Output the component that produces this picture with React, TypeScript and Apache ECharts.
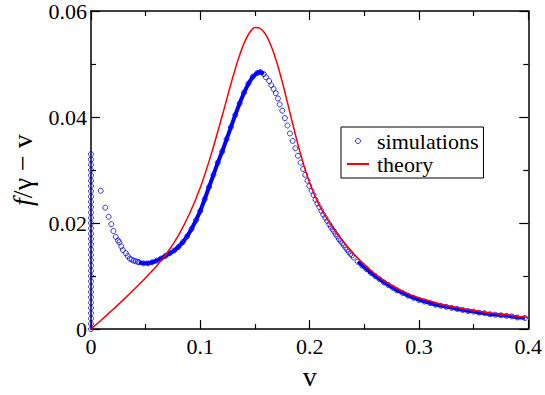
import React, { useEffect, useRef } from "react";
import * as echarts from "echarts";

// ---- data ----
// simulations: points stuck at v = 0
const simColumn: [number, number][] = [
  [0, 0.000], [0, 0.001], [0, 0.002], [0, 0.003], [0, 0.004], [0, 0.005], [0, 0.006],
  [0, 0.007], [0, 0.008], [0, 0.009], [0, 0.010], [0, 0.011], [0, 0.012], [0, 0.013],
  [0, 0.014], [0, 0.015], [0, 0.016], [0, 0.017], [0, 0.018], [0, 0.019], [0, 0.020],
  [0, 0.021], [0, 0.022], [0, 0.023], [0, 0.024], [0, 0.025], [0, 0.026], [0, 0.027],
  [0, 0.028], [0, 0.029], [0, 0.030], [0, 0.031], [0, 0.032], [0, 0.033],
];
// simulations: sparse points leaving v = 0
const simEarly: [number, number][] = [
  [0.0089, 0.0261], [0.0131, 0.0229], [0.0161, 0.0212], [0.0185, 0.0198], [0.0205, 0.0185],
  [0.0226, 0.0174], [0.0247, 0.0167], [0.0259, 0.0164], [0.0277, 0.0156], [0.0292, 0.0149],
  [0.0319, 0.0143], [0.0336, 0.0138], [0.0354, 0.0133], [0.0372, 0.0131], [0.0390, 0.0129],
  [0.0408, 0.0128], [0.0426, 0.0127],
];
// simulations: dense rising band up to the peak
const simRise: [number, number][] = [
  [0.044, 0.0126], [0.048, 0.0124], [0.052, 0.0124],
  [0.056, 0.0126], [0.060, 0.0129], [0.064, 0.0133], [0.068, 0.0138], [0.072, 0.0143],
  [0.076, 0.0148], [0.080, 0.0155], [0.084, 0.0164], [0.088, 0.0175], [0.092, 0.0189],
  [0.096, 0.0205], [0.100, 0.0223], [0.104, 0.0245], [0.108, 0.0268], [0.112, 0.0291],
  [0.116, 0.0314], [0.120, 0.0335], [0.124, 0.0358], [0.128, 0.0381], [0.132, 0.0404],
  [0.136, 0.0426], [0.140, 0.0446], [0.144, 0.0463], [0.148, 0.0476], [0.152, 0.0483],
  [0.155, 0.0485], [0.158, 0.0481],
];
// simulations: sparse falling points after the peak
const simFall: [number, number][] = [
  [0.160, 0.0475], [0.163, 0.0468], [0.165, 0.0460], [0.167, 0.0453], [0.169, 0.0445],
  [0.171, 0.0435], [0.1726, 0.0424], [0.175, 0.0412], [0.1774, 0.0398], [0.1797, 0.0384],
  [0.182, 0.0369], [0.1845, 0.0355], [0.1869, 0.0341], [0.1893, 0.0327], [0.1917, 0.0314],
  [0.194, 0.0302], [0.196, 0.0291], [0.198, 0.0280], [0.1997, 0.0270], [0.2018, 0.0261],
  [0.2036, 0.0253], [0.2054, 0.0244], [0.2071, 0.0237], [0.2089, 0.0230], [0.2107, 0.0223],
  [0.2125, 0.0216], [0.2143, 0.0210], [0.2161, 0.0204], [0.2179, 0.0198], [0.2194, 0.0193],
  [0.2209, 0.0188], [0.2224, 0.0184], [0.2238, 0.0179], [0.2253, 0.0175], [0.2268, 0.0170],
  [0.2283, 0.0166], [0.2298, 0.0162], [0.2313, 0.0158], [0.2328, 0.0154], [0.2343, 0.0150],
  [0.2358, 0.0146], [0.2373, 0.0142], [0.2388, 0.0139], [0.2403, 0.0135],
];
// simulations: dense tail band
const simTail: [number, number][] = [
  [0.244, 0.0127], [0.248, 0.0120], [0.252, 0.0113], [0.256, 0.0106], [0.260, 0.0100],
  [0.264, 0.0094], [0.268, 0.0088], [0.272, 0.0083], [0.276, 0.0078], [0.280, 0.0073],
  [0.285, 0.0068], [0.290, 0.0063], [0.295, 0.0059], [0.300, 0.0055], [0.305, 0.0052],
  [0.310, 0.0049], [0.315, 0.0046], [0.320, 0.0044], [0.325, 0.0042], [0.330, 0.0040],
  [0.335, 0.0038], [0.340, 0.0036], [0.345, 0.0034], [0.350, 0.0033], [0.355, 0.0031],
  [0.360, 0.0030], [0.365, 0.0028], [0.370, 0.0027], [0.375, 0.0026], [0.380, 0.0025],
  [0.385, 0.0024], [0.390, 0.0022], [0.397, 0.0021],
];
// theory curve
const theoryV: number[] = [
  0.000, 0.010, 0.020, 0.030, 0.040, 0.050, 0.060, 0.070, 0.080, 0.090,
  0.100, 0.110, 0.120, 0.125, 0.130, 0.135, 0.140, 0.145, 0.150,
  0.155, 0.160, 0.165, 0.170, 0.175, 0.180, 0.185, 0.190, 0.195, 0.200, 0.205, 0.210,
  0.215, 0.220, 0.230, 0.240, 0.250, 0.260, 0.270, 0.280, 0.290, 0.300, 0.310, 0.320,
  0.340, 0.360, 0.380, 0.400,
];
const theoryY: number[] = [
  0.0000, 0.0018, 0.0037, 0.0056, 0.0076, 0.0097, 0.0119, 0.0145, 0.0177, 0.0217,
  0.0267, 0.0330, 0.0402, 0.0440, 0.0477, 0.0511, 0.0539, 0.0559, 0.0569,
  0.0567, 0.0555, 0.0533, 0.0503, 0.0466, 0.0425, 0.0383, 0.0343, 0.0307, 0.0276, 0.0250, 0.0229,
  0.0211, 0.0195, 0.0167, 0.0143, 0.0122, 0.0104, 0.0089, 0.0077, 0.0067, 0.0059, 0.0053, 0.0047,
  0.0039, 0.0032, 0.0027, 0.0022,
];
const xTicks = { min: 0, max: 0.4, interval: 0.1 };
const yTicks = { min: 0, max: 0.06, interval: 0.02 };

const SERIF = "Liberation Serif";
const BLUE = "#0000ff";
const RED = "#ff0000";

export default function App() {
  const ref = useRef<HTMLDivElement>(null);
  useEffect(() => {
    if (!ref.current) return;
    const chart = echarts.init(ref.current, undefined, { renderer: "svg" });
    const axisCommon = {
      type: "value",
      axisLine: { show: true, onZero: false, lineStyle: { color: "#000", width: 1.5 } },
      axisTick: { show: true, inside: true, length: 9, lineStyle: { color: "#000", width: 1.2 } },
      minorTick: { show: true, splitNumber: 2, length: 5, lineStyle: { color: "#000", width: 1.2 } },
      splitLine: { show: false },
      minorSplitLine: { show: false },
    };
    const tickText = { fontFamily: SERIF, fontSize: 22, color: "#000" };
    const fmt = (v: number) => `{t|${v === 0 ? "0" : String(+v.toFixed(2))}}`;
    const theoryData = theoryV.map((v, i) => [v, theoryY[i]]);
    chart.setOption({
      animation: false,
      grid: { left: 81, right: 16, top: 10, bottom: 56 },
      xAxis: [
        {
          ...axisCommon,
          ...xTicks,
          position: "bottom",
          axisLabel: { ...tickText, margin: 6, formatter: fmt, rich: { t: { ...tickText } } },
          name: "v",
          nameLocation: "middle",
          nameGap: 32,
          nameTextStyle: { fontFamily: SERIF, fontSize: 28, color: "#000" },
        },
        { ...axisCommon, ...xTicks, position: "top", axisLabel: { show: false } },
      ],
      yAxis: [
        {
          ...axisCommon,
          ...yTicks,
          position: "left",
          axisLabel: { ...tickText, margin: 4, formatter: fmt, rich: { t: { ...tickText } } },
          name: "{i|f}/γ − v",
          nameLocation: "middle",
          nameRotate: 90,
          nameGap: 55,
          nameTextStyle: {
            fontFamily: SERIF,
            fontSize: 28,
            color: "#000",
            rich: { i: { fontFamily: SERIF, fontSize: 28, fontStyle: "italic", color: "#000" } },
          },
        },
        { ...axisCommon, ...yTicks, position: "right", axisLabel: { show: false } },
      ],
      legend: {
        data: [
          { name: "simulations", icon: "circle" },
          { name: "theory", itemStyle: { color: "rgba(0,0,0,0)", borderColor: "rgba(0,0,0,0)", borderWidth: 0 } },
        ],
        formatter: (name: string) => `{t|${name}}`,
        orient: "vertical",
        left: 341,
        top: 127,
        padding: [3, 5, 3, 5],
        itemGap: 1,
        itemWidth: 22,
        itemHeight: 5,
        borderColor: "#000",
        borderWidth: 1,
        backgroundColor: "#fff",
        itemStyle: { borderWidth: 1 },
        textStyle: {
          fontFamily: SERIF,
          fontSize: 22,
          color: "#000",
          rich: { t: { fontFamily: SERIF, fontSize: 22, color: "#000", padding: [0, 0, 0, 3] } },
        },
      },
      series: [
        {
          name: "simBand",
          type: "line",
          data: simRise,
          symbol: "none",
          silent: true,
          lineStyle: { color: BLUE, width: 4 },
          itemStyle: { color: BLUE },
          z: 1,
        },
        {
          name: "simBand",
          type: "line",
          data: simTail,
          symbol: "none",
          silent: true,
          lineStyle: { color: BLUE, width: 3.5 },
          itemStyle: { color: BLUE },
          z: 1,
        },
        {
          name: "simulations",
          type: "scatter",
          data: [...simColumn, ...simEarly, ...simRise, ...simFall, ...simTail],
          symbol: "circle",
          symbolSize: 5,
          clip: false,
          itemStyle: { color: "rgba(255,255,255,0)", borderColor: BLUE, borderWidth: 1 },
          z: 2,
        },
        {
          name: "theory",
          type: "line",
          data: theoryData,
          symbol: "none",
          smooth: 0.3,
          lineStyle: { color: RED, width: 1.5 },
          itemStyle: { color: RED },
          z: 3,
        },
      ],
    });
    return () => chart.dispose();
  }, []);
  return <div ref={ref} style={{ position: "absolute", left: 0, top: 0, width: 545, height: 395 }} />;
}
